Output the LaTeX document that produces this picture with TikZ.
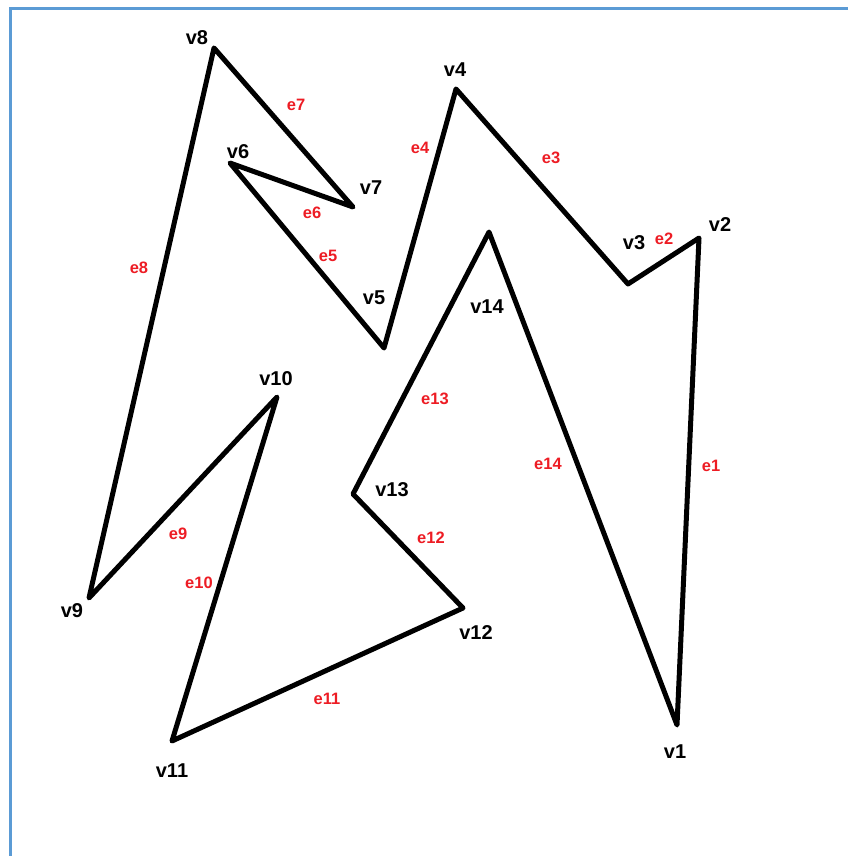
\documentclass[tikz,border=0pt]{standalone}
\usepackage{fontspec}
\setmainfont{Liberation Sans}
\definecolor{frameblue}{RGB}{91,155,213}
\definecolor{edgered}{RGB}{237,28,36}
\tikzset{
  vlab/.style={font=\fontsize{20}{20}\selectfont\bfseries, text=black, inner sep=0pt},
  elab/.style={font=\fontsize{16.5}{16.5}\selectfont\bfseries, text=edgered, inner sep=0pt},
  poly/.style={line width=5pt, line join=round, line cap=round, black},
  framel/.style={line width=3pt, frameblue}
}
\begin{document}
\begin{tikzpicture}[x=1pt,y=-1pt]
\useasboundingbox (0,0) rectangle (848,856);
\coordinate (fa) at (10,856);
\coordinate (fb) at (10,9);
\coordinate (fc) at (848,9);
\draw[framel] (fa) -- (fb) -- (fc);
% vertices
\coordinate (v1) at (677,725);
\coordinate (v2) at (699,238);
\coordinate (v3) at (628,284);
\coordinate (v4) at (456,89);
\coordinate (v5) at (384,348);
\coordinate (v6) at (230,163);
\coordinate (v7) at (353,207);
\coordinate (v8) at (214,48);
\coordinate (v9) at (89,598);
\coordinate (v10) at (277,397);
\coordinate (v11) at (172,741);
\coordinate (v12) at (463,608);
\coordinate (v13) at (353,494);
\coordinate (v14) at (489,232);
\draw[poly] (v1) -- (v2) -- (v3) -- (v4) -- (v5) -- (v6) -- (v7) -- (v8) -- (v9) -- (v10) -- (v11) -- (v12) -- (v13) -- (v14) -- cycle;
% vertex labels
\node[vlab] (l8) at (197,38) {v8};
\node[vlab] (l4) at (455,70) {v4};
\node[vlab] (l6) at (238,152) {v6};
\node[vlab] (l7) at (371,188) {v7};
\node[vlab] (l3) at (634,243) {v3};
\node[vlab] (l2) at (720,225) {v2};
\node[vlab] (l5) at (374,298) {v5};
\node[vlab] (l14) at (487,307) {v14};
\node[vlab] (l10) at (276,379) {v10};
\node[vlab] (l13) at (392,490) {v13};
\node[vlab] (l9) at (72,611) {v9};
\node[vlab] (l12) at (476,633) {v12};
\node[vlab] (l11) at (172,771) {v11};
\node[vlab] (l1) at (675,752) {v1};
% edge labels
\node[elab] (e7) at (296,105) {e7};
\node[elab] (e4) at (420,148) {e4};
\node[elab] (e3) at (551,158) {e3};
\node[elab] (e6) at (312,213) {e6};
\node[elab] (e2) at (664,239) {e2};
\node[elab] (e5) at (328,256) {e5};
\node[elab] (e8) at (139,268) {e8};
\node[elab] (e13) at (435,399) {e13};
\node[elab] (e14) at (548,464) {e14};
\node[elab] (e1) at (711,466) {e1};
\node[elab] (e9) at (178,534) {e9};
\node[elab] (e12) at (431,538) {e12};
\node[elab] (e10) at (199,583) {e10};
\node[elab] (e11) at (327,699) {e11};
\end{tikzpicture}
\end{document}
